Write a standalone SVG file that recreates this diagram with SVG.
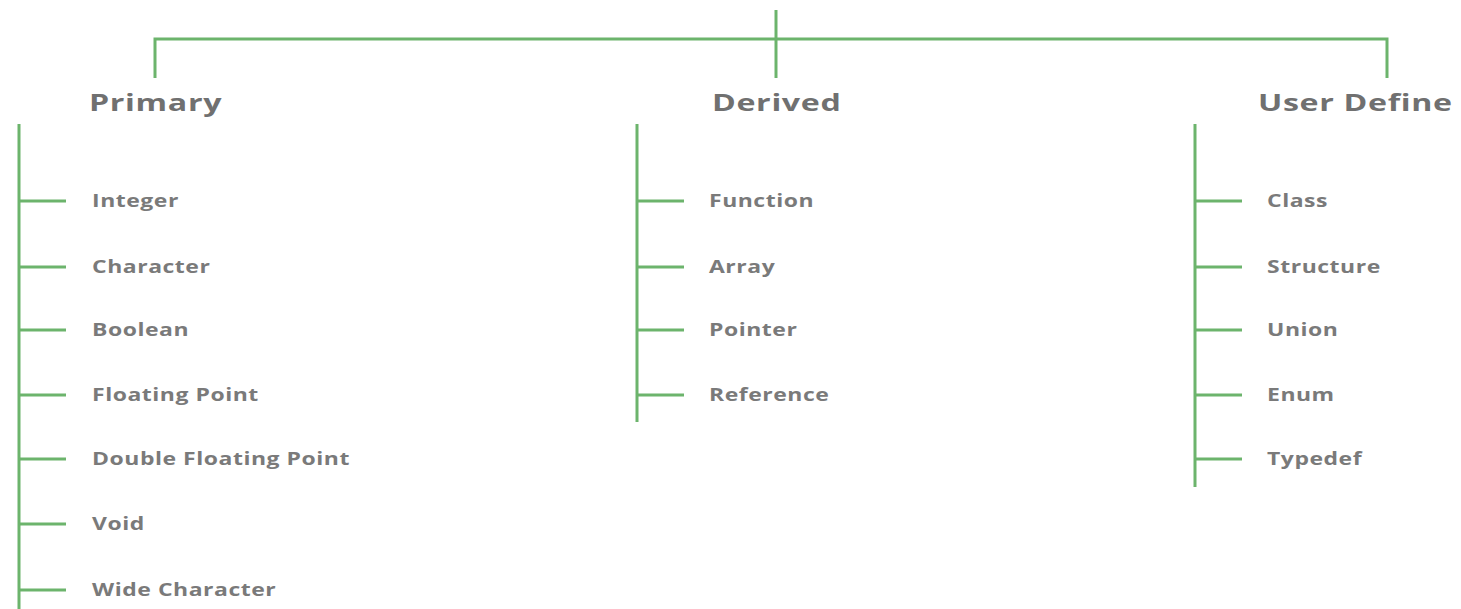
<svg xmlns="http://www.w3.org/2000/svg" width="1461" height="609" viewBox="0 0 1461 609">
  <style>
    .ln { stroke: #6cb46c; stroke-width: 3; fill: none; stroke-linecap: butt; }
    .hd { font-family: "Open Sans", "Liberation Sans", sans-serif; font-weight: 700; font-size: 24px; fill: #707070; letter-spacing: 0.5px; }
    .it { font-family: "Open Sans", "Liberation Sans", sans-serif; font-weight: 700; font-size: 17px; fill: #7a7a7a; letter-spacing: 0.4px; }
  </style>
  <rect width="1461" height="609" fill="#ffffff"/>

  <g id="connectors">
    <!-- root trunk and top bar -->
    <path class="ln" d="M776 10 V78"/>
    <path class="ln" d="M155 78 V39 H1387 V78"/>
    <!-- Primary spine and branches -->
    <path class="ln" d="M19 124 V609"/>
    <path class="ln" d="M19 201 H66 M19 267 H66 M19 330 H66 M19 395 H66 M19 459 H66 M19 524 H66 M19 590 H66"/>
    <!-- Derived spine and branches -->
    <path class="ln" d="M637 124 V422"/>
    <path class="ln" d="M637 201 H684 M637 267 H684 M637 330 H684 M637 395 H684"/>
    <!-- User Define spine and branches -->
    <path class="ln" d="M1195 124 V487"/>
    <path class="ln" d="M1195 201 H1242 M1195 267 H1242 M1195 330 H1242 M1195 395 H1242 M1195 459 H1242"/>
  </g>

  <!-- labels use a wide horizontal scale -->
  <g id="primary">
    <text class="hd" transform="translate(89 111) scale(1.34 1)">Primary</text>
    <text class="it" transform="translate(92 207) scale(1.35 1)">Integer</text>
    <text class="it" transform="translate(92 273) scale(1.35 1)">Character</text>
    <text class="it" transform="translate(92 336) scale(1.35 1)">Boolean</text>
    <text class="it" transform="translate(92 401) scale(1.35 1)">Floating Point</text>
    <text class="it" transform="translate(92 465) scale(1.35 1)">Double Floating Point</text>
    <text class="it" transform="translate(92 530) scale(1.35 1)">Void</text>
    <text class="it" transform="translate(92 596) scale(1.35 1)">Wide Character</text>
  </g>

  <g id="derived">
    <text class="hd" transform="translate(712 111) scale(1.34 1)">Derived</text>
    <text class="it" transform="translate(709 207) scale(1.35 1)">Function</text>
    <text class="it" transform="translate(709 273) scale(1.35 1)">Array</text>
    <text class="it" transform="translate(709 336) scale(1.35 1)">Pointer</text>
    <text class="it" transform="translate(709 401) scale(1.35 1)">Reference</text>
  </g>

  <g id="user-define">
    <text class="hd" transform="translate(1258 111) scale(1.34 1)">User Define</text>
    <text class="it" transform="translate(1267 207) scale(1.35 1)">Class</text>
    <text class="it" transform="translate(1267 273) scale(1.35 1)">Structure</text>
    <text class="it" transform="translate(1267 336) scale(1.35 1)">Union</text>
    <text class="it" transform="translate(1267 401) scale(1.35 1)">Enum</text>
    <text class="it" transform="translate(1267 465) scale(1.35 1)">Typedef</text>
  </g>
</svg>
